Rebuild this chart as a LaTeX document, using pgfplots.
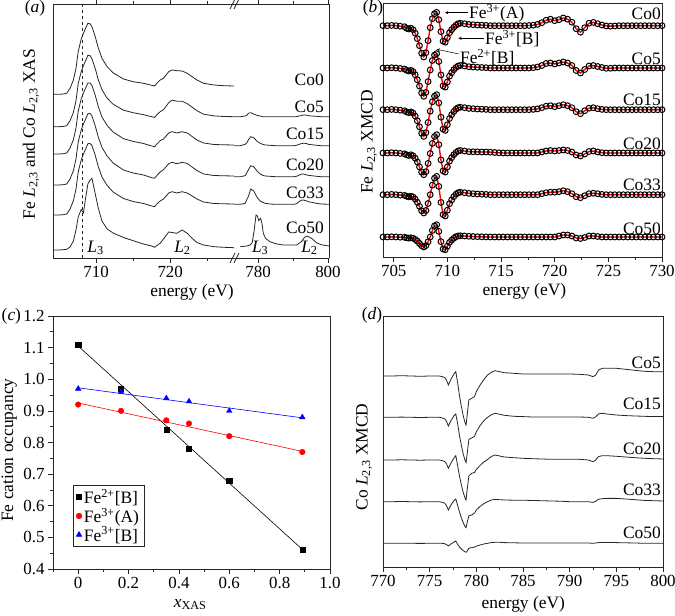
\documentclass[border=0pt]{standalone}
\usepackage{fontspec}
\setmainfont{Liberation Serif}
\usepackage{pgfplots}
\usepackage{pgfplotstable}
\pgfplotsset{compat=1.18}

\newcommand{\fs}{\fontsize{17.5}{19}\selectfont}
\newcommand{\ft}{\fontsize{17}{19}\selectfont}
\newcommand{\Lxy}{\textit{L}\textsubscript{2,3}}

% (a) Fe L-edge XAS, first segment of the broken axis
\pgfplotstableread{
E c0 c5 c15 c20 c33 c50
704.2 163.7 131.3 104 73 43 8
705.0 163.7 131.3 104 73 43 8
705.6 164.0 131.6 104.3 73.3 43.3 8.3
706.05 164.7 132.3 105 74 44 8.7
706.5 169.7 137.3 110 79 49 11
706.95 178.0 145.6 118.3 87.3 57.3 17
707.3 189.7 157.3 130 99 69 28
707.6 206.7 174.3 147 116 86 41
708.0 218.7 186.3 159 128 98 48.5
708.3 224.7 192.3 165 134 104 45
708.6 229.7 197.3 170 139 109 60
708.9 234.7 202.8 175 144.3 114.3 74
709.2 234.2 202.3 175 144.5 114.5 78
709.45 231.2 199.3 172.5 142 112.5 79.7
709.9 221.2 189.3 162.5 132 102.5 64
710.3 210.2 178.3 151.5 121 91.5 50
710.8 199.7 168.3 141 110.5 81 37
711.5 191.2 159.8 132.5 102 72.5 29
712.3 185.2 153.8 126 95 66 25
713.7 179.0 147.8 119.3 88 59.5 20.5
715.0 176.3 145.3 116.6 85 56.5 17.3
716.4 174.7 143.3 114.5 83 54.5 14
717.5 172.7 141.3 112 80.3 52 12
717.9 172.0 140.6 111.3 79.7 51.3 10.7
718.2 174.7 143.3 114 82.5 54 12.5
718.65 178.0 146.3 117.3 86 57 14.7
719.1 179.7 148.3 119 88.3 59 19
719.8 186.3 155.3 125 94.3 65 26
720.25 188.0 157.8 126.3 95.7 66.3 25.5
720.9 187.3 156.8 125 94.3 65 24.7
721.6 187.0 156.8 126.3 95.7 66.3 28
722.3 184.7 154.3 125 94.5 65 24.7
722.95 181.3 150.8 121.5 91 62 19.7
723.6 178.0 147.3 118 87.5 59 15.5
724.5 174.7 143.8 115 84 56 13
725.9 173.0 142.1 113.5 82.5 54.5 11.3
727.2 172.3 141.5 113.2 82.2 54.2 10.7
728.6 172.0 141.3 113 82 54 10.3
}\xasfe

% (a) Co L-edge XAS, second segment
\pgfplotstableread{
E c5 c15 c20 c33
773.1 141.3 112.3 81.3 53.7
775.0 141.3 112.3 81.3 53.7
776.3 142 113.7 82.3 54.7
776.8 142.7 115.3 85.3 58.7
777.2 144.7 118 88 61.3
777.9 145.3 121.3 92.3 69
778.7 144 120.3 91.3 67.3
779.2 143.3 118.7 89.3 64
779.6 142.7 117 87.3 61.3
780.1 142.3 115.7 85.7 59
780.6 142 114.7 84 57
781.3 141.3 113.7 82.7 55.7
782.0 141.3 113 82 54.7
783.4 141.3 112.7 81.7 54
785.0 141.3 112.3 81.3 53.7
787.2 141.3 112.3 81.3 53.7
790.3 141.3 112.3 81.3 53.7
791.0 141.3 112.7 81.7 54.3
792.0 142.3 114 83.3 57
792.4 142.3 114.3 84 57.7
792.9 143 114.7 84 58
793.3 143 114.7 83.7 57.7
794.0 142.7 114.3 83 57
794.3 142.3 113.7 82.7 56.3
795.3 142 113.3 82.3 55.7
796.7 141.7 112.7 81.7 54.7
798.0 141.3 112.3 81.3 54
800.3 141.3 112.3 81.3 53.7
}\xascoa

\pgfplotstableread{
E c50
774.9 11.3
776.8 12
777.7 13
778.3 15.3
778.9 28
779.4 43
779.8 42
780.2 37.3
780.7 39.7
781.1 34.7
781.5 24.7
782.1 19.7
783.4 16.3
785.0 14.3
787.2 13
791.0 13
792.4 16.3
793.3 20.7
794.0 22
795.3 19.7
796.7 15.3
798.0 13.3
800.3 12
}\xascob

% (b) Fe L-edge XMCD
\pgfplotstableread{
E c0 c5 c15 c20 c33 c50
704.0 231.3 189 147.3 104 62.3 20
704.4 231.3 189 147.3 104 62.3 20
704.8 231.6 189.3 147.6 104.3 62.6 20.2
705.2 231.3 189 147.3 104 62.3 20
705.6 230.8 188.5 146.8 103.6 61.9 19.8
706.0 230.3 188 146.3 103.2 61.6 19.7
706.2 228.8 186.7 145.1 102.2 60.8 19.2
706.4 228.0 186 144.4 101.5 60.1 18.9
706.6 228.8 186.7 145.1 102.2 60.8 19.2
706.8 227.3 185.4 143.9 101.2 60 18.8
707.0 223.8 182.2 140.9 98.8 57.9 17.6
707.2 218.3 177.2 136.2 95 54.7 15.9
707.4 211.3 170.9 130.2 90.1 50.6 13.6
707.6 203.8 164.1 123.8 84.9 46.2 11.2
707.8 200.0 160.7 120.6 82.3 44 10
708.0 204.3 164.6 124.3 85.3 46.5 11.4
708.2 216.3 175.4 134.5 93.6 53.5 15.2
708.4 229.3 187 145.8 103.5 62.3 20
708.6 238.3 196.5 155.2 113.6 71.9 26.5
708.8 243.3 201.9 160.8 120.5 78.8 31.1
709.0 244.6 203.3 162.3 122.3 80.6 32.3
709.2 237.3 195.5 154.1 112.3 70.6 25.6
709.4 225.3 182.1 139.8 97.1 54.6 15.4
709.6 215.8 171.1 127.9 86.1 42.3 8
709.8 214.8 169.9 126.6 84.9 41 7.3
710.0 219.3 175.1 132.3 90.1 46.8 10.8
710.2 224.3 180.9 138.5 95.9 53.3 14.6
710.4 227.3 184.4 142.3 99.4 57.1 16.9
710.6 229.8 187.3 145.4 102.3 60.4 18.8
710.8 231.8 189.5 147.8 104.5 62.8 20.3
711.0 233.3 191 149.3 106 64.3 21
711.2 233.8 191.5 149.8 106.5 64.8 21.2
711.6 233.3 191 149.3 106 64.3 21
712.0 232.6 190.3 148.6 105.3 63.6 20.7
712.4 232.3 190 148.3 105.2 63.3 20.5
712.8 232.0 189.7 148 105.1 63 20.3
713.2 231.8 189.5 147.8 105 62.8 20.2
713.6 231.6 189.3 147.6 105 62.6 20.1
714.0 231.3 189 147.3 104.8 62.3 20
714.4 231.3 189 147.3 104.5 62.3 20
714.8 231.3 189 147.3 104.2 62.3 20
715.2 231.3 189 147.3 104 62.3 20
715.6 231.3 189 147.3 104 62.3 20
716.0 231.3 189 147.3 104 62.3 20
716.4 231.3 189 147.3 104 62.3 20
716.8 231.3 189 147.3 104 62.3 20
717.2 231.3 189 147.3 104 62.3 20
717.6 231.5 189 147.3 104 62.3 20
718.0 231.8 189.3 147.6 104 62.3 20
718.4 232.6 190 148.1 104 62.3 20
718.8 234.3 191.5 149.3 105 63.3 20
719.2 236.8 193.5 150.8 106 64.3 20
719.6 237.8 194 151.3 106.5 64.8 20
720.0 236.3 193 150.3 106 64.8 20
720.4 237.3 194 151.3 106.5 65.3 21
720.8 239.0 195 152.3 107 66.3 22
721.2 237.8 194 151.3 106.5 65.3 22
721.6 234.8 191.5 149.3 105 63.3 21
722.0 228.3 186.5 145.3 102 60.3 19
722.4 224.8 184 143.3 101 59.3 18.5
722.8 229.3 187.5 146.3 103 61.3 19.5
723.2 233.8 191 148.8 105.5 63.3 21
723.6 234.6 191.5 149.3 106 63.8 21
724.0 233.3 190.5 148.3 105 63.3 20.5
724.4 232.0 189.5 147.6 104.3 62.6 20
724.8 231.0 188.7 147.3 104 62.3 20
725.2 230.8 188.7 147.3 104 62.3 20
725.6 231.0 189 147.3 104 62.3 20
726.0 231.3 189 147.3 104 62.3 20
726.4 231.3 189 147.3 104 62.3 20
726.8 231.3 189 147.3 104 62.3 20
727.2 231.3 189 147.3 104 62.3 20
727.6 231.3 189 147.3 104 62.3 20
728.0 231.3 189 147.3 104 62.3 20
728.4 231.3 189 147.3 104 62.3 20
728.8 231.3 189 147.3 104 62.3 20
729.2 231.3 189 147.3 104 62.3 20
729.6 231.3 189 147.3 104 62.3 20
730.0 231.3 189 147.3 104 62.3 20
}\xmcdfe

% (d) Co L-edge XMCD
\pgfplotstableread{
E c5 c15 c20 c33 c50
770 191 149.7 107 65.3 23.7
771 191 149.7 107 65.3 23.7
772 191.3 149.9 107.2 65.5 23.8
773 191 149.7 107 65.3 23.7
774 190.7 149.5 106.8 65.1 23.6
775 191 149.7 107 65.3 23.7
776 191 149.7 107 65.3 23.7
776.3 190.5 149.2 106.5 64.8 23.7
776.6 189.5 148.2 105.6 63.9 23.3
776.8 187 145.9 103.3 61.6 22.5
777.0 182 141 98.7 57 21
777.3 188 146.7 104.2 62.3 23.2
777.6 193 151.2 109 66.3 24.9
777.8 195.3 153 111.3 68 26
778.0 184 143.2 101.3 61.6 22.4
778.2 171 131.2 90.7 54.7 20
778.4 160.3 121.3 82 49 18.1
778.6 151 112.7 74.3 44.1 16.4
778.8 144 106.3 68.6 40.3 15.1
778.9 142 104.4 67 39.3 14.7
779.0 150.3 112.1 76 43.7 15.7
779.2 167 127.5 91 51.3 18.7
779.5 168.7 129.1 93.7 52 19.4
779.8 170.3 130.6 94.5 53.8 19.9
780.0 175.3 135.2 97.5 57 20.8
780.4 182 141.4 101.5 60.5 22
780.8 187.3 146.3 105 63.3 23
781.2 192 149.7 107.5 65.3 23.7
781.6 194.7 152.2 110.5 67 24.4
782.0 196.3 153.7 112 67.6 24.7
782.5 195.3 152.7 111 67.3 24.7
783 194.3 151.7 110 67 24.4
784 193.7 150.7 109.3 66.8 24.2
785 193 150.4 108.7 66.8 24
786 193 150 108.3 66.5 24
787 193 150 108 66.3 24
788 193 150 107.7 66 24
789 193 150 107.7 65.8 24
790 193 150 107.7 65.3 24
791 192.7 150 107.7 65.3 24
792 192 149.7 107 65.3 24
792.5 190.3 148.7 105.3 64.6 23.7
792.8 192 150.2 107 65.8 24
793.1 197 153.2 110.5 67.8 24.4
793.5 198.7 153.7 111.3 68.3 24.4
794 198.7 153 111.3 68.6 24.4
795 198.7 152 110.7 68.6 24.4
796 197.7 151.4 110 68 24.2
797 196.7 151 109.3 67.3 24
798 195.7 150.7 108.7 66.6 23.7
799 195.3 150.4 108.3 66.3 23.7
800 195.3 150.4 108 66 23.7
}\xmcdco

\pgfplotsset{
  every axis/.append style={
    scale only axis, anchor=south west,
    tick align=outside, tick pos=left,
    major tick length=5bp, minor tick length=3bp,
    axis line style={line width=0.8bp, black!85},
    tick style={line width=0.7bp, black!85},
    tick label style={font=\ft},
    label style={font=\fs},
    /pgf/number format/assume math mode=true,
  },
  spec/.style={black!85, line width=0.8bp, no marks},
  fedata/.style={only marks, mark=o, mark size=2.9bp, black,
    mark options={line width=1.0bp}},
  fefit/.style={red, line width=1.4bp, no marks},
}

\begin{document}
\begin{tikzpicture}[font=\fs]
\path[use as bounding box] (0,0) rectangle (675bp,616bp);

% ---------- (a) left segment ----------
\begin{axis}[
  at={(53bp,358bp)}, width=181bp, height=254bp,
  xmin=704.2, xmax=728.6, ymin=0, ymax=254,
  axis x line*=box, axis y line*=left,
  xtick={710,720}, minor xtick={715,725}, ytick=\empty,
  xlabel={energy (eV)},
  xlabel style={at={(axis description cs:0.768,-0.134)}, anchor=center},
  ylabel={Fe \Lxy{} and Co \Lxy{} XAS},
  ylabel style={at={(axis description cs:-0.1215,0.488)}, anchor=center},
]
\addplot[black!85, dashed, line width=0.8bp] coordinates {(708.1,0) (708.1,254)};
\addplot[spec] table[x=E, y=c0] {\xasfe};
\addplot[spec] table[x=E, y=c5] {\xasfe};
\addplot[spec] table[x=E, y=c15] {\xasfe};
\addplot[spec] table[x=E, y=c20] {\xasfe};
\addplot[spec] table[x=E, y=c33] {\xasfe};
\addplot[spec] table[x=E, y=c50] {\xasfe};
\node at (axis cs:709.93,10) {\textit{L}\textsubscript{3}};
\node at (axis cs:721.65,10) {\textit{L}\textsubscript{2}};
\end{axis}

% ---------- (a) right segment ----------
\begin{axis}[
  at={(234bp,358bp)}, width=95bp, height=254bp,
  xmin=773.1, xmax=800.3, ymin=0, ymax=254,
  axis x line*=box, axis y line*=right,
  xtick={780,800}, minor xtick={790}, ytick=\empty,
]
\addplot[spec] table[x=E, y=c5] {\xascoa};
\addplot[spec] table[x=E, y=c15] {\xascoa};
\addplot[spec] table[x=E, y=c20] {\xascoa};
\addplot[spec] table[x=E, y=c33] {\xascoa};
\addplot[spec] table[x=E, y=c50] {\xascob};
\node at (axis cs:780.6,10) {\textit{L}\textsubscript{3}};
\node at (axis cs:794.7,10) {\textit{L}\textsubscript{2}};
\end{axis}

% break marks
\foreach \yy in {358,612} {
  \draw[black!85, line width=0.7bp] (230bp,\yy bp-5bp) -- (235bp,\yy bp+5bp);
  \draw[black!85, line width=0.7bp] (234bp,\yy bp-5bp) -- (239bp,\yy bp+5bp);
}

% ---------- (b) ----------
\begin{axis}[
  at={(383bp,359bp)}, width=279bp, height=253.3bp,
  xmin=704, xmax=730, ymin=0, ymax=253.3,
  xtick={705,710,...,730}, minor x tick num=1, ytick=\empty,
  xlabel={energy (eV)},
  xlabel style={at={(axis description cs:0.507,-0.137)}, anchor=center},
  ylabel={Fe \Lxy{} XMCD},
  ylabel style={at={(axis description cs:-0.05,0.455)}, anchor=center},
]
\addplot[fedata] table[x=E, y=c0] {\xmcdfe};
\addplot[fefit] table[x=E, y=c0] {\xmcdfe};
\addplot[fedata] table[x=E, y=c5] {\xmcdfe};
\addplot[fefit] table[x=E, y=c5] {\xmcdfe};
\addplot[fedata] table[x=E, y=c15] {\xmcdfe};
\addplot[fefit] table[x=E, y=c15] {\xmcdfe};
\addplot[fedata] table[x=E, y=c20] {\xmcdfe};
\addplot[fefit] table[x=E, y=c20] {\xmcdfe};
\addplot[fedata] table[x=E, y=c33] {\xmcdfe};
\addplot[fefit] table[x=E, y=c33] {\xmcdfe};
\addplot[fedata] table[x=E, y=c50] {\xmcdfe};
\addplot[fefit] table[x=E, y=c50] {\xmcdfe};
\end{axis}

% ---------- (c) ----------
\begin{axis}[
  at={(53bp,47bp)}, width=277bp, height=253bp,
  xmin=-0.1, xmax=1.0, ymin=0.4, ymax=1.2,
  xtick={0,0.2,0.4,0.6,0.8,1.0},
  xticklabels={0,0.2,0.4,0.6,0.8,1.0},
  minor xtick={-0.1,0.1,0.3,0.5,0.7,0.9},
  ytick={0.4,0.5,0.6,0.7,0.8,0.9,1.0,1.1,1.2},
  yticklabels={0.4,0.5,0.6,0.7,0.8,0.9,1.0,1.1,1.2},
  minor y tick num=1,
  xlabel={\textit{x}\textsubscript{XAS}},
  xlabel style={at={(axis description cs:0.495,-0.14)}, anchor=center},
  ylabel={Fe cation occupancy},
  ylabel style={at={(axis description cs:-0.158,0.47)}, anchor=center},
  legend style={at={(0.072,0.087)}, anchor=south west, draw=black!85,
    line width=0.6bp, font=\fs, row sep=-1bp, inner xsep=3bp, inner ysep=2bp},
  legend cell align=left,
]
\addplot[black, line width=0.6bp, forget plot] coordinates {(0,1.105) (0.89,0.462)};
\addplot[red, line width=0.6bp, forget plot] coordinates {(0,0.925) (0.89,0.772)};
\addplot[blue, line width=0.6bp, forget plot] coordinates {(0,0.973) (0.89,0.878)};
\addplot[only marks, mark=square*, black, mark size=2.6bp] coordinates {
  (0,1.11) (0.17,0.97) (0.35,0.84) (0.44,0.78) (0.60,0.68) (0.89,0.46)};
\addplot[only marks, mark=*, red, mark size=2.8bp] coordinates {
  (0,0.92) (0.17,0.90) (0.35,0.87) (0.44,0.86) (0.60,0.82) (0.89,0.77)};
\addplot[only marks, mark=triangle*, blue, mark size=3.2bp] coordinates {
  (0,0.97) (0.17,0.96) (0.35,0.94) (0.44,0.93) (0.60,0.90) (0.89,0.88)};
\legend{Fe\textsuperscript{2+}[B], Fe\textsuperscript{3+}(A), Fe\textsuperscript{3+}[B]}
\end{axis}

% ---------- (d) ----------
\begin{axis}[
  at={(383bp,49bp)}, width=280bp, height=251bp,
  xmin=770, xmax=800, ymin=0, ymax=251,
  xtick={770,775,...,800}, minor x tick num=1, ytick=\empty,
  xlabel={energy (eV)},
  xlabel style={at={(axis description cs:0.501,-0.15)}, anchor=center},
  ylabel={Co \Lxy{} XMCD},
  ylabel style={at={(axis description cs:-0.068,0.438)}, anchor=center},
]
\addplot[spec] table[x=E, y=c5] {\xmcdco};
\addplot[spec] table[x=E, y=c15] {\xmcdco};
\addplot[spec] table[x=E, y=c20] {\xmcdco};
\addplot[spec] table[x=E, y=c33] {\xmcdco};
\addplot[spec] table[x=E, y=c50] {\xmcdco};
\end{axis}

% sample labels
\begin{scope}[every node/.style={anchor=east, inner sep=0pt}]
\node at (324bp,536bp) {Co0};
\node at (324bp,509bp) {Co5};
\node at (324bp,482.5bp) {Co15};
\node at (324bp,451bp) {Co20};
\node at (324bp,423bp) {Co33};
\node at (324bp,388bp) {Co50};
\node at (661bp,602bp) {Co0};
\node at (661bp,557bp) {Co5};
\node at (661bp,516bp) {Co15};
\node at (661bp,472.7bp) {Co20};
\node at (661bp,431bp) {Co33};
\node at (661bp,387.7bp) {Co50};
\node at (661bp,252.7bp) {Co5};
\node at (661bp,212bp) {Co15};
\node at (661bp,167.7bp) {Co20};
\node at (661bp,126bp) {Co33};
\node at (661bp,83.7bp) {Co50};
\end{scope}

% annotations in (b)
\draw[-stealth, line width=0.5bp] (468bp,603.3bp) -- (445bp,603.3bp);
\node[anchor=west, inner sep=0pt] at (469bp,603bp) {Fe\textsuperscript{3+}(A)};
\draw[-stealth, line width=0.5bp] (484bp,577.7bp) -- (458.3bp,577.7bp);
\node[anchor=west, inner sep=0pt] at (485bp,577.5bp) {Fe\textsuperscript{3+}[B]};
\draw[-stealth, line width=0.5bp] (459bp,562bp) -- (436.7bp,566.7bp);
\node[anchor=west, inner sep=0pt] at (460bp,558.5bp) {Fe\textsuperscript{2+}[B]};

% panel letters
\node at (35bp,608bp) {(\textit{a})};
\node at (373bp,607.5bp) {(\textit{b})};
\node[anchor=west, inner sep=0pt] at (1.5bp,300bp) {(\textit{c})};
\node at (372bp,301bp) {(\textit{d})};
\end{tikzpicture}
\end{document}
